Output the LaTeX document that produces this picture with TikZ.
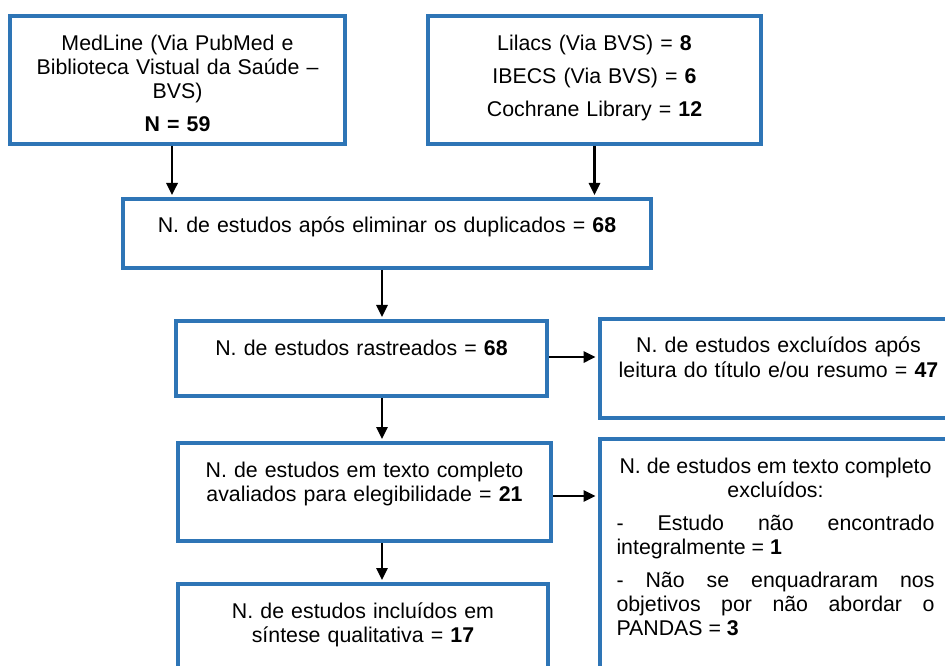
\documentclass[tikz,border=0pt]{standalone}
\usepackage{fontspec}
\setmainfont{Liberation Sans}
\usetikzlibrary{arrows.meta}

\definecolor{boxblue}{RGB}{46,117,182}
\newcommand{\gapline}{\par\vspace{6.75pt}}

\tikzset{
  box/.style={draw=boxblue, line width=3pt, inner ysep=0pt, inner xsep=12.75pt,
    text height=25.5pt, align=center, font=\fontsize{16}{18}\selectfont},
  arr/.style={line width=1.6pt, -{Triangle[length=9pt,width=8.5pt]}, shorten >=1.5pt}
}

\begin{document}
\begin{tikzpicture}[x=0.75pt,y=0.75pt,yscale=-1,xscale=1]
\useasboundingbox (0,0) rectangle (945,666);
\clip (0,0) rectangle (945,666);

%Shape: Rectangle [sources]
\node [box, text width=225.75pt, text depth=70.125pt] (medline) at (177.5,80.25)
  {MedLine (Via PubMed e\\ Biblioteca Vistual da Saúde –\\ BVS)\\[6.75pt] \textbf{N = 59}};
\node [box, text width=224.25pt, text depth=70.125pt] (lilacs) at (594.5,80.25)
  {Lilacs (Via BVS) = \textbf{8}\\[6.75pt] IBECS (Via BVS) = \textbf{6}\\[6.75pt] Cochrane Library = \textbf{12}};

%Shape: Rectangle [screening]
\node [box, text width=370.5pt, text depth=26.25pt] (dupl) at (387,233.5)
  {N. de estudos após eliminar os duplicados = \textbf{68}};
\node [box, text width=252.75pt, text depth=30.75pt] (rastr) at (361.5,358.5)
  {N. de estudos rastreados = \textbf{68}};
\node [box, text width=243pt, text depth=48.75pt] (excl) at (778.5,368.5)
  {N. de estudos excluídos após\\ leitura do título e/ou resumo = \textbf{47}};

%Shape: Rectangle [eligibility]
\node [box, text width=254.25pt, text depth=48pt] (eleg) at (364.5,492)
  {N. de estudos em texto completo\\ avaliados para elegibilidade = \textbf{21}};
\node [box, align=justify, text width=238.5pt, text depth=162.75pt] (exclt) at (775.5,564.5)
  {{\centering N. de estudos em texto completo\linebreak excluídos:\par}\vspace{6.75pt}%
   - Estudo não encontrado\linebreak integralmente = \textbf{1}\gapline
   - Não se enquadraram nos\linebreak objetivos por não abordar o\linebreak PANDAS = \textbf{3}\par};

%Shape: Rectangle [included]
\node [box, text width=252pt, text depth=48pt] (incl) at (363,633)
  {N. de estudos incluídos em\\ síntese qualitativa = \textbf{17}};

%Straight Lines [arrows]
\coordinate (spine) at (382,0);
\draw [arr] ([xshift=-4.1pt]medline.south) -- ([xshift=-4.1pt]medline.south |- dupl.north);
\draw [arr] (lilacs.south) -- (lilacs.south |- dupl.north);
\draw [arr] (dupl.south -| spine) -- (rastr.north -| spine);
\draw [arr] (rastr.south -| spine) -- (eleg.north -| spine);
\draw [arr] (eleg.south -| spine) -- (incl.north -| spine);
\draw [arr] ([yshift=-1.1pt]rastr.east) -- ([yshift=-1.1pt]rastr.east -| excl.west);
\draw [arr] ([yshift=3pt]eleg.east) -- ([yshift=3pt]eleg.east -| exclt.west);

\end{tikzpicture}
\end{document}
